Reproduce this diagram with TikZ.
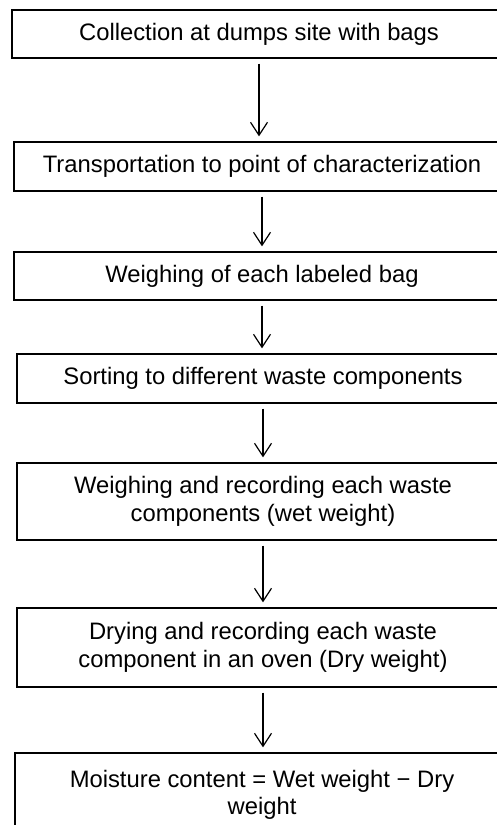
\documentclass[tikz,border=0pt]{standalone}
\usepackage{fontspec}
\setmainfont{Liberation Sans}
\usepackage{tikz}
\usetikzlibrary{arrows.meta,positioning}

\begin{document}
\begin{tikzpicture}[
              x=1pt, y=-1pt,
              every node/.style={font=\fontsize{23.8}{27.5}\selectfont},
              stepbox/.style={draw, line width=1.3pt, rectangle, align=center, inner sep=0pt},
              flow/.style={draw, line width=1.2pt, -{Straight Barb[length=13pt,width=17pt,line width=1.2pt]},
                           shorten <=5pt, shorten >=5pt}
            ]

            % frame of the picture (the boxes run past the right edge)
            \useasboundingbox (0,0) rectangle (497,825);
            \clip (0,0) rectangle (497,825);

            % steps, top to bottom
            \node[stepbox, minimum width=494pt, minimum height=48pt] (collect) at (259,34)
              {Collection at dumps site with bags};
            \node[stepbox, minimum width=496pt, minimum height=49pt] (transport) at (262,166.5)
              {Transportation to point of characterization};
            \node[stepbox, minimum width=496pt, minimum height=48pt] (weighbag) at (262,276)
              {Weighing of each labeled bag};
            \node[stepbox, minimum width=492pt, minimum height=49pt] (sort) at (263,378.5)
              {Sorting to different waste components};
            \node[stepbox, minimum width=492pt, minimum height=77pt] (wet) at (263,501.5)
              {Weighing and recording each waste\\components (wet weight)};
            \node[stepbox, minimum width=492pt, minimum height=79pt] (dry) at (263,647.5)
              {Drying and recording each waste\\component in an oven (Dry weight)};
            % last box is cut off at the bottom
            \node[stepbox, minimum width=494pt, minimum height=84pt] (moist) at (262,795)
              {Moisture content = Wet weight − Dry\\weight};

            % arrows between the steps
            \draw[flow] (collect.south) -- (collect.south |- transport.north);
            \draw[flow] (transport.south) -- (transport.south |- weighbag.north);
            \draw[flow] (weighbag.south) -- (weighbag.south |- sort.north);
            \draw[flow] (sort.south) -- (sort.south |- wet.north);
            \draw[flow] (wet.south) -- (wet.south |- dry.north);
            \draw[flow] (dry.south) -- (dry.south |- moist.north);

            \end{tikzpicture}
\end{document}
